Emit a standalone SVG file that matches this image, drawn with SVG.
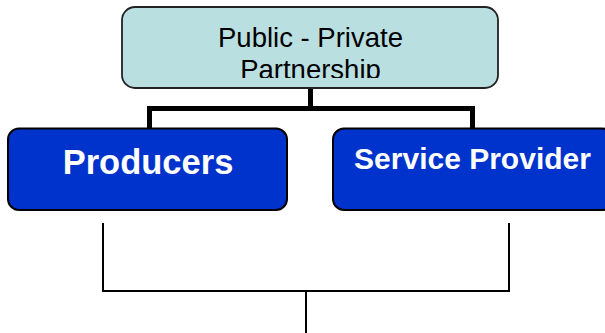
<svg xmlns="http://www.w3.org/2000/svg" width="605" height="333" viewBox="0 0 605 333">
<style>
.top{fill:#badfe1;stroke:#222;stroke-width:1.8}
.blue{fill:#0033cc;stroke:#000;stroke-width:2}
.t1{font-family:"Liberation Sans",Arial,sans-serif;font-size:27.5px;fill:#000;text-anchor:middle}
.t2{font-family:"Liberation Sans",Arial,sans-serif;font-weight:bold;fill:#fff;text-anchor:middle}
.thick{fill:none;stroke:#000;stroke-width:5}
.thin{fill:none;stroke:#000;stroke-width:2}
</style>
<defs>
<clipPath id="clipTop"><rect x="120" y="5" width="380" height="73"/></clipPath>
</defs>
<rect width="605" height="333" fill="#fff"/>
<g id="connectors">
<path class="thick" d="M310.5 88 V108.5 M149.5 129 V108.5 H472.5 V129"/>
<path class="thin" d="M103 223 V291 H509 V223 M306 291 V333"/>
</g>
<g id="ppp">
<rect class="top" x="122" y="7" width="376" height="81" rx="13"/>
<g clip-path="url(#clipTop)">
<text class="t1" x="310.5" y="47">Public - Private</text>
<text class="t1" x="310.5" y="78.5">Partnership</text>
</g>
</g>
<g id="producers">
<rect class="blue" x="8" y="128.5" width="279" height="81.5" rx="11"/>
<text class="t2" x="148" y="174" font-size="34.5">Producers</text>
</g>
<g id="service">
<rect class="blue" x="333" y="128.5" width="280" height="81.5" rx="11"/>
<text class="t2" x="472.5" y="169" font-size="30">Service Provider</text>
</g>
</svg>
